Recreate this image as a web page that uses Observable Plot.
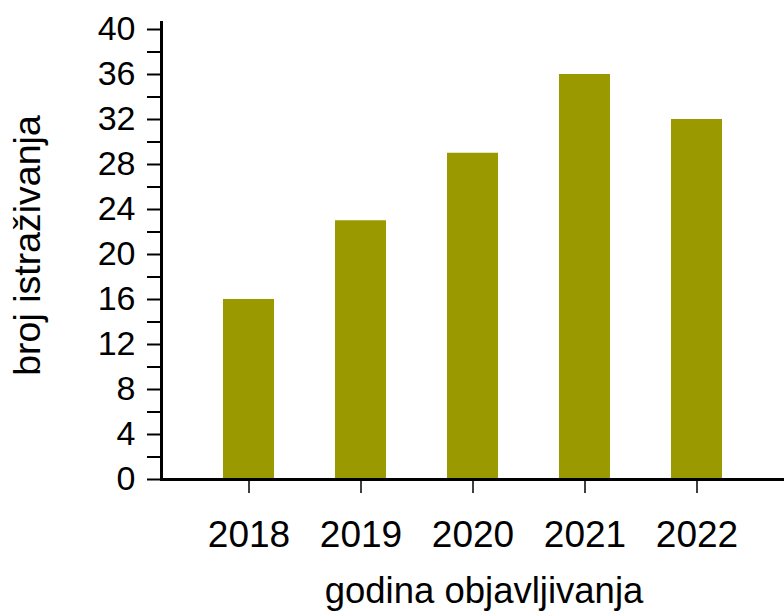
<!DOCTYPE html>
<html>
<head>
<meta charset="utf-8">
<script src="https://cdn.jsdelivr.net/npm/d3@7"></script>
<script src="https://cdn.jsdelivr.net/npm/@observablehq/plot@0.6"></script>
<style>
  html, body { margin: 0; padding: 0; background: #fff; }
  svg { display: block; }
</style>
</head>
<body>
<div id="chart"></div>
<script>
const years = ["2018", "2019", "2020", "2021", "2022"];
const counts = [16, 23, 29, 36, 32];
const majorTicks = [0, 4, 8, 12, 16, 20, 24, 28, 32, 36, 40];
const minorTicks = [2, 6, 10, 14, 18, 22, 26, 30, 34, 38];
const xLabel = "godina objavljivanja";
const yLabel = "broj istraživanja";

const data = years.map((y, i) => ({year: y, count: counts[i]}));

const chart = Plot.plot({
  width: 784,
  height: 614,
  marginLeft: 161,
  marginRight: 0,
  marginTop: 29,
  marginBottom: 135,
  style: {fontFamily: "'Liberation Sans', Arial, sans-serif", color: "#000", background: "#fff"},
  x: {domain: years, paddingInner: 0.545, paddingOuter: 0.55},
  y: {domain: [0, 40]},
  marks: [
    Plot.barY(data, {x: "year", y: "count", fill: "#9a9a00"}),
    Plot.axisY(majorTicks, {tickSize: 14, tickPadding: 12, fontSize: 34, strokeWidth: 2, label: null}),
    Plot.axisY(minorTicks, {tickSize: 14, strokeWidth: 2, tickFormat: () => "", label: null}),
    Plot.axisX({tickSize: 14, tickPadding: 27, fontSize: 37, strokeWidth: 1.5, label: null}),
    Plot.frame({anchor: "left", strokeWidth: 3, insetTop: -7}),
    Plot.ruleY([0], {strokeWidth: 3}),
    Plot.text([xLabel], {
      frameAnchor: "bottom", text: d => d, fontSize: 36.5, lineAnchor: "middle",
      dx: 11, dy: 112, fill: "#000"
    }),
    Plot.text([yLabel], {
      frameAnchor: "left", text: d => d, fontSize: 37.5, lineAnchor: "middle", textAnchor: "middle",
      rotate: -90, dx: -134, dy: -9, fill: "#000"
    })
  ]
});

document.getElementById("chart").appendChild(chart);
</script>
</body>
</html>
